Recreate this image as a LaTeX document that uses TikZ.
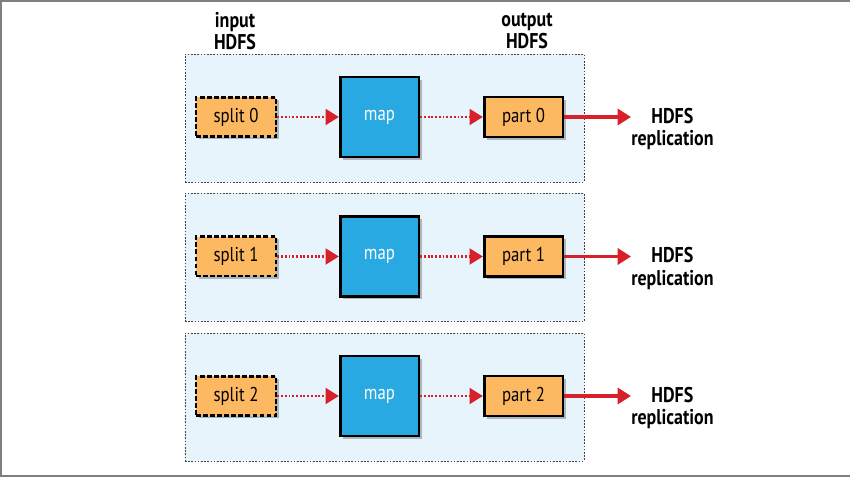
\documentclass[tikz,border=0pt]{standalone}
\usepackage{fontspec}
\setmainfont{PT Sans}[FakeStretch=0.84]
\usetikzlibrary{arrows.meta,shadows}
\definecolor{panelfill}{HTML}{E8F4FB}
\definecolor{orangefill}{HTML}{FDB862}
\definecolor{mapblue}{HTML}{29A9E1}
\definecolor{arrowred}{HTML}{D7202A}
\definecolor{framegray}{HTML}{7F7F7F}
\tikzset{
  panel/.style={draw=black!75, dash pattern=on 1.2pt off 1.2pt, line width=0.6pt, fill=panelfill, minimum width=299.25pt, minimum height=96pt, inner sep=0pt},
  boxshadow/.style={drop shadow={shadow xshift=2pt, shadow yshift=-2pt, opacity=0.25, fill=black}},
  splitbox/.style={draw=black, line width=2pt, dash pattern=on 3.5pt off 1.8pt, fill=orangefill, minimum width=60pt, minimum height=29.5pt, inner sep=0pt, font=\fontsize{15pt}{17pt}\selectfont, boxshadow},
  mapbox/.style={draw=black, line width=2pt, fill=mapblue, minimum width=59pt, minimum height=60pt, inner sep=0pt, text=white, font=\fontsize{15pt}{17pt}\selectfont, boxshadow},
  partbox/.style={draw=black, line width=2pt, fill=orangefill, minimum width=59pt, minimum height=30pt, inner sep=0pt, font=\fontsize{15pt}{17pt}\selectfont, boxshadow},
  dotarrow/.style={draw=arrowred, line width=1.6pt, dash pattern=on 1.4pt off 1.4pt, -{Triangle[length=10pt, width=12pt]}},
  solidarrow/.style={draw=arrowred, line width=2.4pt, -{Triangle[length=10pt, width=12pt]}},
  headlabel/.style={align=center, font=\bfseries\fontsize{16pt}{16.5pt}\selectfont, inner sep=0pt},
  replabel/.style={align=center, font=\bfseries\fontsize{16pt}{17pt}\selectfont, inner sep=0pt}
}
\begin{document}
\begin{tikzpicture}[x=0.75pt,y=-0.75pt]
\useasboundingbox (0,0) rectangle (850,477);
\draw[framegray, line width=1.5pt] (850,1) -- (1,1) -- (1,476) -- (850,476);
\node[headlabel] (inlab) at (235,31) {input\\HDFS};
\node[headlabel] (outlab) at (527,31) {output\\HDFS};
\foreach \i/\c in {0/117,1/256.5,2/396} {
  \node[panel] (panel\i) at (384.5,\c+1) {};
  \node[splitbox] (s\i) at (236,\c) {split \i};
  \node[mapbox] (m\i) at (379.5,\c) {map};
  \node[partbox] (p\i) at (523.5,\c) {part \i};
  \node[replabel, anchor=west] (r\i) at (631,\c+12) {HDFS\\replication};
  \draw[dotarrow] (s\i.east) -- (m\i.west);
  \draw[dotarrow] (m\i.east) -- (p\i.west);
  \draw[solidarrow] (p\i.east) -- (r\i.west |- p\i.east);
}
\end{tikzpicture}
\end{document}
